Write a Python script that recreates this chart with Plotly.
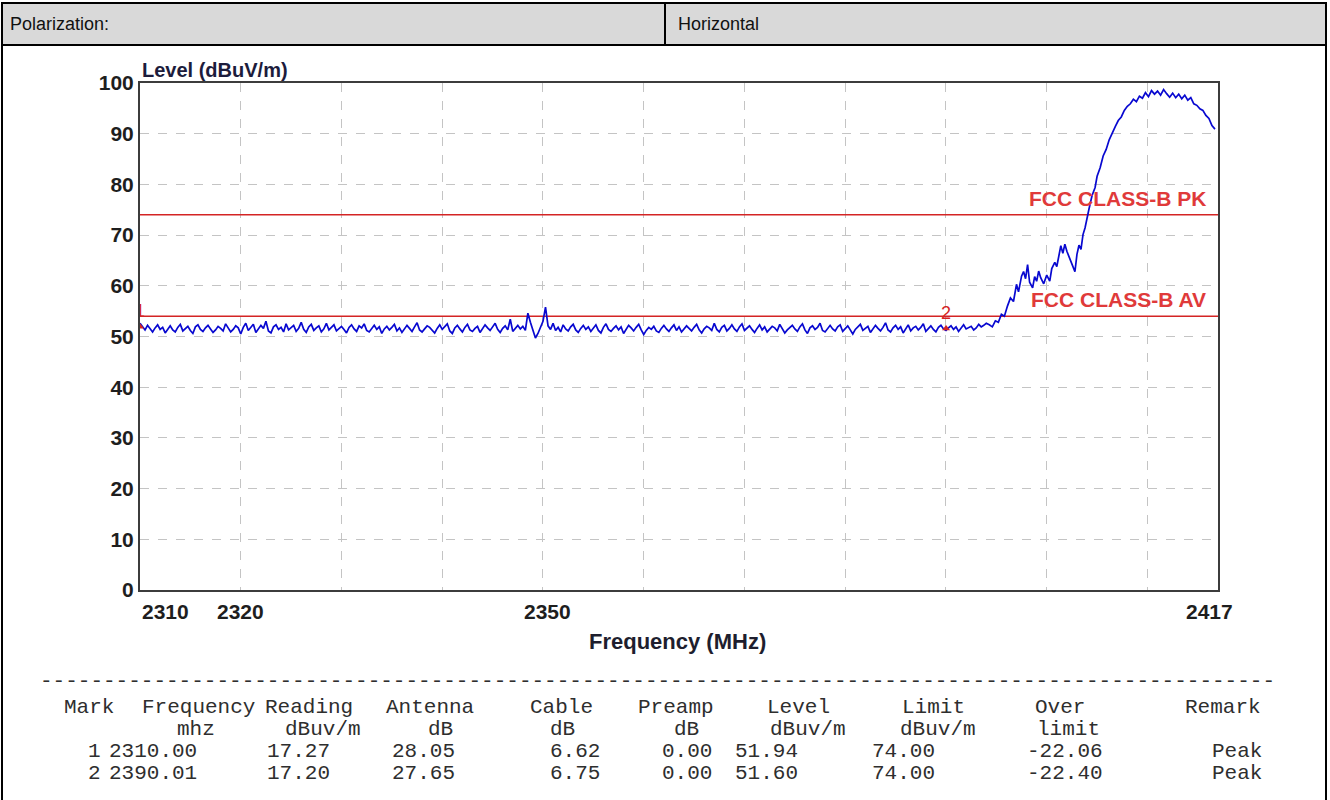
import plotly.graph_objects as go

# ---------------- data ----------------
noise_start = 2310.0
noise_step = 0.25
noise_levels = [
    52.6, 51.9, 51.3, 52.2, 51.6, 50.9, 51.7, 52.3, 51.4, 51.8, 50.7, 51.5, 52.1, 51.3, 50.9, 51.8, 52.4, 51.1, 51.6, 52.0,
    51.2, 50.6, 51.9, 52.3, 51.4, 51.0, 51.7, 52.2, 51.5, 50.8, 51.3, 52.0, 51.6, 51.1, 52.5, 51.8, 50.9, 51.4, 52.1, 51.7,
    50.5, 51.8, 52.6, 51.2, 51.9, 52.4, 50.8, 51.5, 52.2, 51.6, 53.0, 51.1, 50.7, 51.9, 52.3, 51.4, 51.8, 50.9, 52.5, 51.3,
    51.7, 52.2, 51.0, 51.6, 52.8, 51.4, 50.8, 51.9, 52.4, 51.2, 51.7, 52.1, 50.9, 51.5, 52.6, 51.3, 51.8, 52.3, 51.1, 51.6,
    52.0, 51.4, 50.7, 51.8, 52.3, 51.5, 51.0, 52.1, 51.7, 52.5, 51.2, 50.9, 51.6, 52.2, 51.4, 51.9, 50.6, 51.5, 52.0, 51.3,
    51.8, 52.4, 51.1, 51.7, 50.8, 51.4, 52.2, 51.6, 51.0, 51.9, 52.7, 51.3, 50.9, 51.5, 52.1, 51.8, 51.2, 50.7, 51.6, 52.3,
    51.4, 51.9, 52.5, 51.1, 50.6, 51.7, 52.2, 51.5, 50.9, 51.8, 52.4, 51.3, 51.0, 51.6, 52.0, 50.8, 51.5, 52.3, 51.7, 51.2,
    51.9, 52.6, 51.4, 50.8, 51.6, 52.1, 51.3, 53.4, 51.0, 51.7, 52.2, 51.5, 52.0, 51.2, 54.6, 52.8, 51.3, 49.7, 50.6, 51.9,
    53.0, 55.8, 52.1, 51.4, 52.6, 51.2, 51.8, 50.9, 52.3, 51.5, 51.1, 51.9, 52.4, 51.3, 50.8, 51.6, 52.2, 51.4, 51.9, 51.0,
    51.7, 52.3, 51.2, 50.7, 51.8, 52.5, 51.4, 51.0, 51.6, 52.1, 51.3, 51.9, 50.6, 51.5, 52.2, 51.7, 51.1, 51.8, 52.4, 51.3,
    50.4, 51.2, 51.8, 51.4, 52.0, 51.1, 50.8, 51.6, 52.2, 51.5, 51.0, 51.7, 52.3, 51.2, 51.9, 50.9, 51.4, 52.1, 51.6, 51.1,
    51.8, 52.4, 51.3, 50.7, 51.5, 52.0, 51.7, 51.2, 52.6, 51.4, 50.9, 51.8, 52.2, 51.1, 51.6, 52.3, 51.5, 51.0, 51.9, 52.5,
    51.2, 51.7, 52.1, 51.4, 50.8, 51.6, 52.3, 51.3, 51.9, 50.9, 51.5, 52.0, 51.7, 51.1, 52.4, 51.6, 50.7, 51.3, 51.8, 52.2,
    51.5, 51.0, 51.9, 52.5, 51.3, 50.6, 51.7, 52.1, 51.4, 51.8, 52.6, 51.2, 50.9, 51.6, 52.2, 51.5, 51.1, 51.9, 52.3, 51.0,
    51.6, 52.1, 51.3, 50.5, 51.4, 51.9, 52.4, 51.2, 51.7, 52.0, 50.8, 51.5, 52.2, 51.6, 51.1, 51.8, 52.7, 51.3, 50.9, 51.7,
    52.2, 51.4, 51.9, 50.7, 51.5, 52.3, 51.1, 51.7, 52.0, 51.3, 51.8, 52.5, 51.0, 51.6, 52.1, 51.4, 50.9, 51.8, 52.2, 51.5,
    51.2, 51.7, 52.1, 51.4, 51.9, 51.0, 51.6, 52.3, 51.5, 51.8, 52.0, 51.3, 51.7, 52.4, 51.9, 52.2, 52.6,
]
rise_freq = [
    2394.3, 2394.6, 2394.9, 2395.2, 2395.5, 2395.8, 2396.1, 2396.4, 2396.7, 2397.0,
    2397.2, 2397.5, 2397.7, 2397.9, 2398.1, 2398.3, 2398.6, 2398.8, 2399.0, 2399.2,
    2399.4, 2399.7, 2400.0, 2400.3, 2400.5, 2400.8, 2401.0, 2401.2, 2401.4, 2401.6,
    2401.8, 2402.0, 2402.3, 2402.6, 2402.8, 2403.0, 2403.2, 2403.4, 2403.6, 2403.8,
    2404.0, 2404.2, 2404.5, 2404.8, 2405.0, 2405.3, 2405.6, 2405.9, 2406.2, 2406.5,
    2406.8, 2407.1, 2407.4, 2407.7, 2408.0, 2408.3, 2408.6, 2408.9, 2409.2, 2409.5,
    2409.8, 2410.1, 2410.4, 2410.7, 2411.0, 2411.3, 2411.6, 2411.9, 2412.2, 2412.5,
    2412.8, 2413.1, 2413.4, 2413.7, 2414.0, 2414.3, 2414.6, 2414.9, 2415.2, 2415.5,
    2415.8, 2416.1, 2416.4, 2416.7,
]
rise_level = [
    52.3, 51.9, 53.1, 52.8, 54.4, 54.0, 56.0, 57.6, 56.9, 60.3,
    58.8, 61.9, 62.8, 61.4, 64.2, 60.7, 59.6, 61.8, 60.9, 62.9,
    61.6, 60.4, 62.1, 60.9, 63.4, 64.6, 63.8, 66.1, 67.9, 66.4,
    68.2, 66.8, 65.3, 64.0, 62.8, 66.2, 68.0, 67.2, 70.1, 71.4,
    73.6, 75.2, 77.8, 79.4, 81.6, 83.3, 85.6, 86.9, 88.8, 90.2,
    91.4, 92.6, 93.3, 94.6, 95.4, 95.9, 96.8, 96.3, 97.4, 97.0,
    98.1, 97.3, 98.5, 97.8, 98.4, 97.6, 98.7, 97.9, 97.2, 98.0,
    97.1, 97.8, 96.9, 97.6, 96.6, 97.1, 95.9, 95.6, 94.9, 94.6,
    93.6, 93.0, 91.6, 90.9,
]
limit_pk = 74.0
limit_av = 54.0
limit_pk_label = "FCC CLASS-B PK"
limit_av_label = "FCC CLASS-B AV"
x_min, x_max = 2310, 2417
x_tick_vals = [2310, 2320, 2350, 2417]
x_tick_text = ["2310", "2320", "2350", "2417"]
x_grid_vals = [2320, 2330, 2340, 2350, 2360, 2370, 2380, 2390, 2400, 2410]
y_tick_vals = [0, 10, 20, 30, 40, 50, 60, 70, 80, 90, 100]

marker_ids = ["1", "2"]
marker_freq = [2310.00, 2390.01]
marker_level = [51.94, 51.60]

polarization_label = "Polarization:"
polarization_value = "Horizontal"

tbl_header = ["Mark", "Frequency", "Reading", "Antenna", "Cable", "Preamp", "Level", "Limit", "Over", "Remark"]
tbl_units = ["mhz", "dBuv/m", "dB", "dB", "dB", "dBuv/m", "dBuv/m", "limit"]
tbl_mark = ["1", "2"]
tbl_freq = ["2310.00", "2390.01"]
tbl_reading = ["17.27", "17.20"]
tbl_antenna = ["28.05", "27.65"]
tbl_cable = ["6.62", "6.75"]
tbl_preamp = ["0.00", "0.00"]
tbl_level = ["51.94", "51.60"]
tbl_limit = ["74.00", "74.00"]
tbl_over = ["-22.06", "-22.40"]
tbl_remark = ["Peak", "Peak"]

# ---------------- layout geometry (pixels) ----------------
W, H = 1330, 800
PL, PR, PT, PB = 140, 1218, 83, 590


def fx(px):
    return (px - PL) / (PR - PL)


def fy(py):
    return (PB - py) / (PB - PT)


noise_freq = [noise_start + i * noise_step for i in range(len(noise_levels))]
trace_freq = noise_freq + rise_freq
trace_level = noise_levels + rise_level

fig = go.Figure()

RED = "#d42424"
fig.add_trace(go.Scatter(x=[x_min, x_max], y=[limit_pk, limit_pk], mode="lines",
                         line=dict(color=RED, width=1.6), hoverinfo="skip"))
fig.add_trace(go.Scatter(x=[x_min, x_max], y=[limit_av, limit_av], mode="lines",
                         line=dict(color=RED, width=1.6), hoverinfo="skip"))
fig.add_trace(go.Scatter(x=trace_freq, y=trace_level, mode="lines",
                         line=dict(color="#0808d0", width=1.7), hoverinfo="skip"))
fig.add_trace(go.Scatter(x=marker_freq, y=marker_level, mode="markers+text",
                         marker=dict(symbol="triangle-up", size=7, color=RED),
                         text=marker_ids, textposition="top center",
                         textfont=dict(family="Arial, Liberation Sans", size=18, color=RED),
                         cliponaxis=True, hoverinfo="skip"))

annotations = []
TICKFONT = dict(family="Arial, Liberation Sans", size=21, color="#1e1e1e")
# x tick labels
for v, t in zip(x_tick_vals, x_tick_text):
    if v == x_min:
        anchor, shift = "left", 0
    elif v == x_max:
        anchor, shift = "center", -9
    elif v == 2350:
        anchor, shift = "center", 5
    else:
        anchor, shift = "center", 0
    annotations.append(dict(x=v, y=fy(611), xref="x", yref="paper", text="<b>%s</b>" % t,
                            showarrow=False, xanchor=anchor, yanchor="middle", xshift=shift,
                            font=TICKFONT))
# axis titles
annotations.append(dict(x=fx(677), y=fy(641), xref="paper", yref="paper",
                        text="<b>Frequency (MHz)</b>", showarrow=False, xanchor="center",
                        yanchor="middle", font=dict(family="Arial, Liberation Sans", size=22, color="#1e1e2e")))
annotations.append(dict(x=fx(140), y=fy(70), xref="paper", yref="paper",
                        text="<b>Level (dBuV/m)</b>", showarrow=False, xanchor="left",
                        yanchor="middle", font=dict(family="Arial, Liberation Sans", size=20, color="#1c1c3c")))
# limit labels
LBLFONT = dict(family="Arial, Liberation Sans", size=21, color="#e03a3a")
annotations.append(dict(x=fx(1208), y=limit_pk, xref="paper", yref="y", text="<b>%s</b>" % limit_pk_label,
                        showarrow=False, xanchor="right", yanchor="bottom", yshift=3, font=LBLFONT))
annotations.append(dict(x=fx(1208), y=limit_av, xref="paper", yref="y", text="<b>%s</b>" % limit_av_label,
                        showarrow=False, xanchor="right", yanchor="bottom", yshift=3, font=LBLFONT))

# header table text
HDRFONT = dict(family="Arial, Liberation Sans", size=18, color="#111111")
annotations.append(dict(x=fx(8), y=fy(24), xref="paper", yref="paper", text=polarization_label,
                        showarrow=False, xanchor="left", yanchor="middle", font=HDRFONT))
annotations.append(dict(x=fx(676), y=fy(24), xref="paper", yref="paper", text=polarization_value,
                        showarrow=False, xanchor="left", yanchor="middle", font=HDRFONT))

# bottom text table (monospace)
MONO = dict(family="Liberation Mono, Courier New, monospace", size=21, color="#2e2e2e")


def cell(px, py, text):
    annotations.append(dict(x=fx(px), y=fy(py), xref="paper", yref="paper", text=text,
                            showarrow=False, xanchor="left", yanchor="middle", font=MONO))


cell(38, 681, "-" * 98)
hdr_x = [62, 140, 263, 384, 528, 636, 765, 900, 1033, 1183]
for xx, t in zip(hdr_x, tbl_header):
    cell(xx, 707, t)
unit_x = [175, 283, 426, 548, 672, 768, 898, 1035]
for xx, t in zip(unit_x, tbl_units):
    cell(xx, 729, t)
row_y = [751, 773]
val_x = [86, 107, 265, 390, 548, 660, 733, 870, 1025, 1210]
for i, yy in enumerate(row_y):
    vals = [tbl_mark[i], tbl_freq[i], tbl_reading[i], tbl_antenna[i], tbl_cable[i],
            tbl_preamp[i], tbl_level[i], tbl_limit[i], tbl_over[i], tbl_remark[i]]
    for xx, t in zip(val_x, vals):
        cell(xx, yy, t)

# shapes: outer report box
shapes = [
    dict(type="rect", xref="paper", yref="paper", x0=fx(2), x1=fx(1326), y0=fy(3), y1=fy(45),
         fillcolor="#d9d9d9", line=dict(color="#000000", width=2), layer="below"),
    dict(type="line", xref="paper", yref="paper", x0=fx(665), x1=fx(665), y0=fy(3), y1=fy(45),
         line=dict(color="#000000", width=2)),
    dict(type="line", xref="paper", yref="paper", x0=fx(2), x1=fx(2), y0=fy(45), y1=fy(810),
         line=dict(color="#000000", width=2)),
    dict(type="line", xref="paper", yref="paper", x0=fx(1326), x1=fx(1326), y0=fy(45), y1=fy(810),
         line=dict(color="#000000", width=2)),
]

fig.update_layout(
    width=W, height=H,
    margin=dict(l=PL, r=W - PR, t=PT, b=H - PB, pad=0),
    paper_bgcolor="white", plot_bgcolor="white",
    showlegend=False,
    annotations=annotations,
    shapes=shapes,
    xaxis=dict(range=[x_min, x_max], tickmode="array", tickvals=x_grid_vals,
               showticklabels=False, ticks="", showgrid=True, gridcolor="#c4c4c4",
               griddash="dash", gridwidth=1, zeroline=False,
               showline=True, mirror=True, linecolor="#3c3c3c", linewidth=2),
    yaxis=dict(range=[0, 100], tickmode="array", tickvals=y_tick_vals,
               ticktext=["<b>%d</b>" % v for v in y_tick_vals], tickfont=TICKFONT,
               ticks="", showgrid=True, gridcolor="#c4c4c4", griddash="dash", gridwidth=1,
               zeroline=False, showline=True, mirror=True, linecolor="#3c3c3c", linewidth=2),
)

fig.write_html("out.html", config={"displayModeBar": False, "staticPlot": True},
               post_script="document.body.style.margin='0px';document.body.style.overflow='hidden';")
